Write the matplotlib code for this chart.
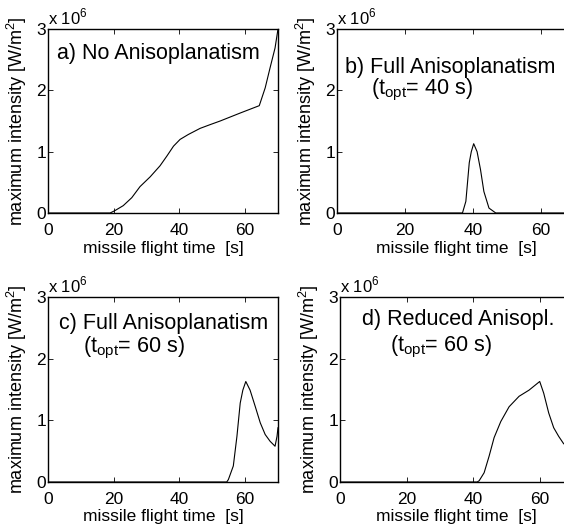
import numpy as np
import matplotlib
matplotlib.use("Agg")
import matplotlib.pyplot as plt

plt.rcParams['font.family'] = ['Liberation Sans', 'DejaVu Sans']
plt.rcParams['mathtext.fontset'] = 'custom'
plt.rcParams['mathtext.rm'] = 'Liberation Sans'

# a) no anisoplanatism
t_a = [0, 17, 18.9, 20.4, 22.9, 25.5, 28, 31.1, 34.1, 36.2, 38.2, 40.2, 42.7, 46.3, 49.3,
       52.4, 58.5, 64.3, 66.1, 67.6, 69.1, 70]
i_a = [0, 0, 0.0, 0.04, 0.12, 0.25, 0.43, 0.59, 0.77, 0.93, 1.09, 1.2, 1.28, 1.38, 1.44,
       1.5, 1.63, 1.75, 2.04, 2.37, 2.69, 3.0]

# b) full anisoplanatism, t_opt = 40 s
t_b = [0, 36.9, 37.9, 38.9, 39.5, 40.2, 41.2, 42.2, 43.2, 44.7, 46.7, 70]
i_b = [0, 0, 0.19, 0.82, 1.0, 1.13, 1.0, 0.71, 0.35, 0.08, 0, 0]

# c) full anisoplanatism, t_opt = 60 s
t_c = [0, 54.4, 54.9, 56.4, 57.5, 58.5, 59.3, 60.2, 61.5, 63.1, 64.6, 66.1, 67.6, 69.1, 69.7, 70]
i_c = [0, 0, 0.04, 0.26, 0.74, 1.28, 1.49, 1.63, 1.49, 1.22, 0.96, 0.77, 0.66, 0.58, 0.74, 0.88]

# d) reduced anisoplanatism, t_opt = 60 s
t_d = [0, 41.2, 41.8, 43.3, 44.8, 46.3, 48.3, 50.8, 53.8, 56.8, 60, 61.2, 62.7, 64.2, 65.7,
       67.2, 69, 70]
i_d = [0, 0, 0.02, 0.15, 0.42, 0.72, 0.98, 1.22, 1.39, 1.49, 1.63, 1.44, 1.12, 0.88, 0.74,
       0.62, 0.57, 0.8]

panels = [
    (t_a, i_a, "a) No Anisoplanatism", None),
    (t_b, i_b, "b) Full Anisoplanatism", "40"),
    (t_c, i_c, "c) Full Anisoplanatism", "60"),
    (t_d, i_d, "d) Reduced Anisopl.", "60"),
]

W, H = 564, 527
fig = plt.figure(figsize=(W / 100, H / 100), dpi=100)

# axes boxes in pixels: left, top, width, height
boxes = [(48, 29, 230, 184), (337, 29, 238, 184), (48, 297, 230, 185), (340, 297, 233, 185)]
# label positions in pixels
title_pos = [(57, 53), (345, 67), (59, 323), (362, 320)]
sub_pos = [None, (371, 90), (83, 348), (390, 347)]

for k, (t, y, title, topt) in enumerate(panels):
    l, tp, w, h = boxes[k]
    ax = fig.add_axes([l / W, 1 - (tp + h) / H, w / W, h / H])
    ax.plot(t, y, color='black', lw=0.8)
    ax.set_xlim(0, 70)
    ax.set_ylim(0, 3)
    ax.set_xticks([0, 20, 40, 60])
    ax.set_yticks([0, 1, 2, 3])
    ax.tick_params(direction='in', top=True, right=True, length=3.5, width=0.6,
                   labelsize=12.5)
    ax.tick_params(axis='x', pad=7)
    ax.tick_params(axis='y', pad=1.5)
    for s in ax.spines.values():
        s.set_linewidth(1.0)
    ax.set_xlabel("missile flight time  [s]", fontsize=12.5, labelpad=2)
    ax.set_ylabel(r"maximum intensity [W/m$^\mathregular{2}$]", fontsize=13, labelpad=5)
    ax.text(0, 1.01, r"x 10$^\mathregular{6}$", transform=ax.transAxes,
            fontsize=12, ha='left', va='bottom')
    tx, ty = title_pos[k]
    ax.text((tx - l) / w, 1 - (ty - tp) / h, title, transform=ax.transAxes,
            fontsize=15.5, ha='left', va='center')
    if topt is not None:
        sx, sy = sub_pos[k]
        ax.text((sx - l) / w, 1 - (sy - tp) / h,
                r"(t$_\mathregular{opt}$= " + topt + " s)", transform=ax.transAxes,
                fontsize=15.5, ha='left', va='center')

fig.savefig("out.png", dpi=100)
